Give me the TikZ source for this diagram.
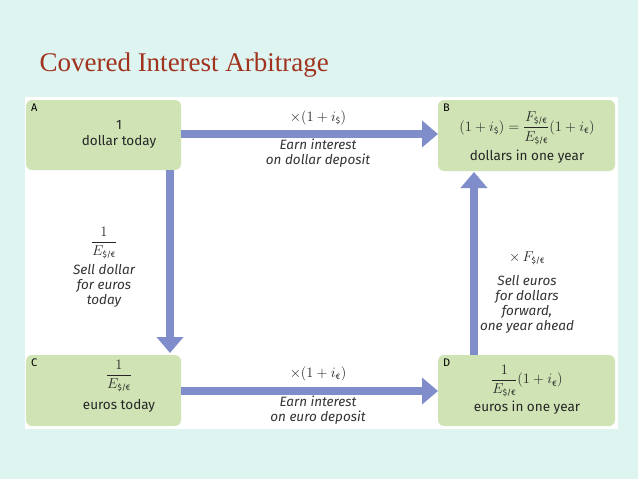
\documentclass[tikz,border=0pt]{standalone}
\usepackage{amsmath}
\usepackage{fontspec}
\setmainfont{Fira Sans}
\newfontfamily\titlefont{Liberation Serif}
\usetikzlibrary{arrows.meta}
\definecolor{bgcyan}{HTML}{DDF4F1}
\definecolor{boxgreen}{HTML}{CFE3B5}
\definecolor{arrowblue}{HTML}{7F8DCB}
\definecolor{titlered}{HTML}{A0321E}
\tikzset{
  box/.style={fill=boxgreen, rounded corners=6pt},
  corner/.style={font=\fontsize{11}{12}\selectfont, anchor=north west, inner sep=0pt},
  txt/.style={font=\fontsize{13.5}{16}\selectfont, align=center, text=black!85},
  note/.style={font=\fontsize{13.5}{15}\selectfont\itshape, align=center, text=black!80},
  flow/.style={arrowblue, line width=8pt, -{Triangle[width=26pt,length=16pt]}}
}
\newcommand{\sde}{\text{\fontsize{8}{8}\selectfont\$/€}}
\newcommand{\seu}{\text{\fontsize{8}{8}\selectfont€}}
\newcommand{\sdo}{\text{\fontsize{8}{8}\selectfont\$}}
\begin{document}
\begin{tikzpicture}[x=1pt,y=-1pt]
\fill[bgcyan] (0,0) rectangle (638,479);
\useasboundingbox (0,0) rectangle (638,479);
\node[anchor=west, text=titlered, font=\titlefont\fontsize{27}{30}\selectfont] (title) at (36,65) {Covered Interest Arbitrage};
\fill[white] (25,97) rectangle (618,429);
% boxes
\fill[box] (26,100) rectangle (181,170);
\fill[box] (438,100) rectangle (615,171);
\fill[box] (26,355) rectangle (181,426);
\fill[box] (438,355) rectangle (615,426);
\node[corner] (labA) at (31,104) {A};
\node[corner] (labB) at (443,104) {B};
\node[corner] (labC) at (31,359) {C};
\node[corner] (labD) at (443,359) {D};
% connector ends
\coordinate (a1) at (181,134);
\coordinate (b1) at (438,134);
\coordinate (a2) at (170,170);
\coordinate (c2) at (170,353);
\coordinate (c1) at (181,391);
\coordinate (d1) at (438,391);
\coordinate (d2) at (474,355);
\coordinate (b2) at (474,172);
\draw[flow] (a1) -- (b1);
\draw[flow] (a2) -- (c2);
\draw[flow] (c1) -- (d1);
\draw[flow] (d2) -- (b2);
% box texts
\node[txt] (textA) at (119,134) {1\\dollar today};
\node[txt] (eqB) at (527,128) {$(1+i_{\sdo})=\dfrac{F_{\sde}}{E_{\sde}}(1+i_{\seu})$};
\node[txt] (textB) at (527,157) {dollars in one year};
\node[txt] (fracC) at (119,376) {$\dfrac{1}{E_{\sde}}$};
\node[txt] (textC) at (119,406) {euros today};
\node[txt] (eqD) at (527,381) {$\dfrac{1}{E_{\sde}}(1+i_{\seu})$};
\node[txt] (textD) at (527,408) {euros in one year};
% arrow labels
\node[txt] (mulAB) at (318,118) {$\times(1+i_{\sdo})$};
\node[note] (noteAB) at (318,153) {Earn interest\\on dollar deposit};
\node[txt] (fracAC) at (104,243) {$\dfrac{1}{E_{\sde}}$};
\node[note] (noteAC) at (104,286) {Sell dollar\\for euros\\today};
\node[txt] (mulDB) at (527,258) {$\times\,F_{\sde}$};
\node[note] (noteDB) at (527,304) {Sell euros\\for dollars\\forward,\\one year ahead};
\node[txt] (mulCD) at (318,374) {$\times(1+i_{\seu})$};
\node[note] (noteCD) at (318,410) {Earn interest\\on euro deposit};
\end{tikzpicture}
\end{document}
